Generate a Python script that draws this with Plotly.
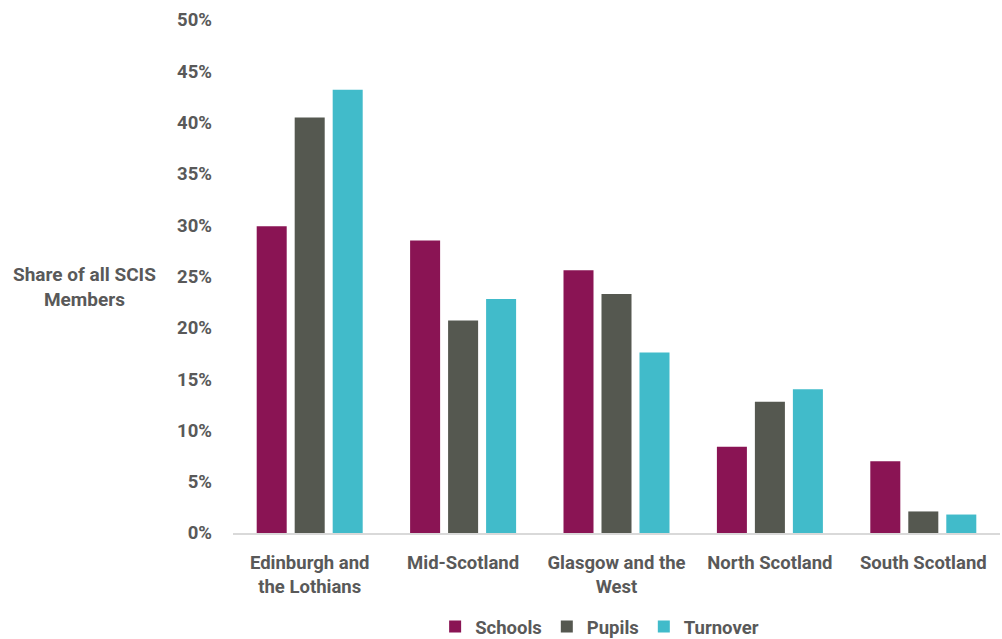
import plotly.graph_objects as go

# Regional share of SCIS members (percent)
regions = ["Edinburgh and<br>the Lothians", "Mid-Scotland", "Glasgow and the<br>West",
           "North Scotland", "South Scotland"]
schools = [29.9, 28.5, 25.6, 8.4, 7.0]
pupils = [40.5, 20.7, 23.3, 12.8, 2.1]
turnover = [43.2, 22.8, 17.6, 14.0, 1.8]

series = [("Schools", schools, "#8A1454"),
          ("Pupils", pupils, "#555850"),
          ("Turnover", turnover, "#41BBCA")]

text_color = "#595959"
font_family = "Roboto"
fs = 18.5


def tfont(size=fs):
    return dict(family=font_family, size=size, color=text_color, weight="bold")


fig = go.Figure()
for name, vals, color in series:
    fig.add_trace(go.Bar(
        name=name, x=regions, y=vals,
        marker=dict(color=color, line=dict(width=0)),
    ))

fig.update_layout(
    width=1002, height=639,
    margin=dict(l=233, r=2, t=20, b=106, autoexpand=False),
    paper_bgcolor="white", plot_bgcolor="white",
    barmode="group", bargap=0.257, bargroupgap=0.21,
    font=tfont(),
    showlegend=True,
    legend=dict(orientation="h", x=0.478, xanchor="center",
                yref="container", y=0.019, yanchor="middle",
                font=tfont(), itemwidth=30, traceorder="normal"),
    xaxis=dict(showline=True, linecolor="#D9D9D9", linewidth=1.5, ticks="",
               showgrid=False, ticklabelstandoff=12, tickfont=tfont(), automargin=False),
    yaxis=dict(range=[0, 50], dtick=5, ticksuffix="%", showgrid=False, zeroline=False,
               showline=False, ticks="", ticklabelstandoff=20, tickfont=tfont(),
               automargin=False),
    annotations=[dict(text="Share of all SCIS<br>Members", xref="paper", yref="paper",
                      x=-0.193, y=0.48, xanchor="center", yanchor="middle",
                      showarrow=False, align="center", font=tfont(19))],
)

fig.write_html("out.html")
